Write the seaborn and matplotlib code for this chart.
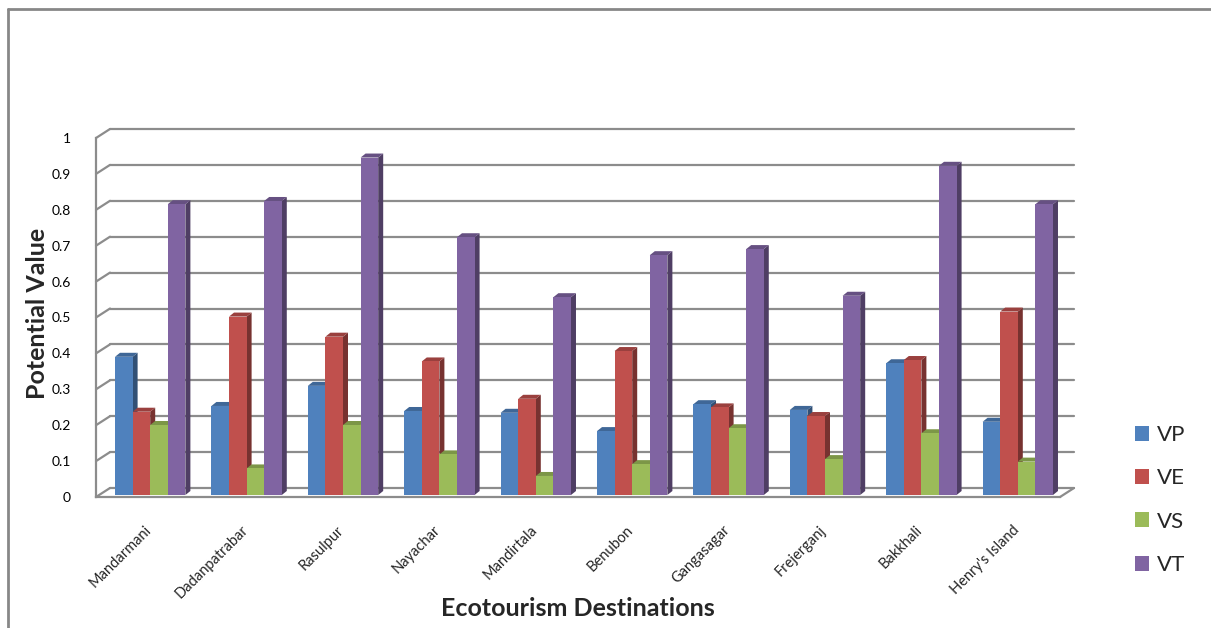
import numpy as np
import pandas as pd
import seaborn as sns
import matplotlib.pyplot as plt
from matplotlib.transforms import ScaledTranslation
from matplotlib.patches import Polygon, Patch
from matplotlib.lines import Line2D

# values
destinations = ['Mandarmani', 'Dadanpatrabar', 'Rasulpur', 'Nayachar', 'Mandirtala',
                'Benubon', 'Gangasagar', 'Frejerganj', 'Bakkhali', "Henry's Island"]
series_names = ['VP', 'VE', 'VS', 'VT']
vp = [0.385, 0.248, 0.304, 0.234, 0.229, 0.178, 0.253, 0.237, 0.367, 0.204]
ve = [0.232, 0.497, 0.441, 0.372, 0.268, 0.401, 0.244, 0.220, 0.376, 0.511]
vs = [0.195, 0.074, 0.195, 0.113, 0.053, 0.086, 0.186, 0.100, 0.172, 0.093]
vt = [0.810, 0.819, 0.940, 0.718, 0.551, 0.668, 0.685, 0.555, 0.917, 0.810]
y_ticks = [0, 0.1, 0.2, 0.3, 0.4, 0.5, 0.6, 0.7, 0.8, 0.9, 1]
y_tick_labels = ['0', '0.1', '0.2', '0.3', '0.4', '0.5', '0.6', '0.7', '0.8', '0.9', '1']

colors = ['#4F81BD', '#C0504D', '#9BBB59', '#8064A2']
grid_col = '#8C8C8C'

df = pd.DataFrame({
    'Destination': destinations * 4,
    'Series': sum([[s] * len(destinations) for s in series_names], []),
    'Value': vp + ve + vs + vt,
})

sns.set_style('white')
plt.rcParams['font.family'] = ['Lato', 'DejaVu Sans']

W, H = 1211, 628
fig = plt.figure(figsize=(W / 100, H / 100), dpi=100)
# front plane of the axes in pixel terms: x 96..1060, y(0)=497, y(1)=138
ax = fig.add_axes([96 / W, (H - 497) / H, (1060 - 96) / W, (497 - 138) / H])
ax.set_xlim(-0.5, len(destinations) - 0.5)
ax.set_ylim(0, 1)


def px(dx, dy):
    # shift in pixels (dpi = 100)
    return ScaledTranslation(dx / 100, dy / 100, fig.dpi_scale_trans)


back = ax.transData + px(14, 9)

# back wall gridlines plus the diagonal links to the front axis
for v in y_ticks:
    ax.plot([-0.5, len(destinations) - 0.5], [v, v], color=grid_col, lw=1.6,
            transform=back, zorder=1, clip_on=False)
    p0 = ax.transData.transform((-0.5, v))
    p1 = back.transform((-0.5, v))
    fig.add_artist(Line2D([p0[0] / W, p1[0] / W], [p0[1] / H, p1[1] / H],
                          color=grid_col, lw=1.6))
# right edge of the floor
p0 = ax.transData.transform((len(destinations) - 0.5, 0))
p1 = back.transform((len(destinations) - 0.5, 0))
fig.add_artist(Line2D([p0[0] / W, p1[0] / W], [p0[1] / H, p1[1] / H],
                      color=grid_col, lw=1.6))

# bars
sns.barplot(data=df, x='Destination', y='Value', hue='Series', hue_order=series_names,
            palette=colors, width=0.73, gap=0, saturation=1, legend=False,
            ax=ax, zorder=3)
ax.set_xlim(-0.5, len(destinations) - 0.5)
ax.set_ylim(0, 1)

bar_tr = ax.transData + px(6, 2)
ux = ax.bbox.width / len(destinations)   # pixels per category
uy = ax.bbox.height                      # pixels per 1.0
dx, dy = 5 / ux, 4 / uy                  # bar depth in data units

bars = list(ax.patches)
for i, bar in enumerate(bars):
    c = np.array(plt.matplotlib.colors.to_rgb(colors[i // len(destinations)]))
    bar.set_transform(bar_tr)
    bar.set_edgecolor('none')
    x0, w, h = bar.get_x(), bar.get_width(), bar.get_height()
    side = Polygon([(x0 + w, 0), (x0 + w + dx, dy), (x0 + w + dx, h + dy), (x0 + w, h)],
                   closed=True, facecolor=c * 0.62, edgecolor='none',
                   transform=bar_tr, zorder=2)
    top = Polygon([(x0, h), (x0 + dx, h + dy), (x0 + w + dx, h + dy), (x0 + w, h)],
                  closed=True, facecolor=c * 0.8, edgecolor='none',
                  transform=bar_tr, zorder=2.5)
    ax.add_patch(side)
    ax.add_patch(top)

# axes styling
for s in ['top', 'right']:
    ax.spines[s].set_visible(False)
for s in ['left', 'bottom']:
    ax.spines[s].set_color(grid_col)
    ax.spines[s].set_linewidth(1.6)
    ax.spines[s].set_zorder(4)

ax.set_yticks(y_ticks, labels=y_tick_labels)
ax.tick_params(axis='y', length=4, width=1.6, color=grid_col, pad=14,
               labelsize=10, labelcolor='black')
ax.set_xticks(np.arange(-0.5, len(destinations), 1), labels=[''] * (len(destinations) + 1))
ax.tick_params(axis='x', which='major', length=4, width=1.6, color=grid_col)

# rotated category names below the floor
lbl_tr = ax.transData + px(5, -31)
for i, name in enumerate(destinations):
    ax.text(i, 0, name, transform=lbl_tr, rotation=45, ha='right', va='center',
            rotation_mode='anchor', fontsize=10.5, clip_on=False)

ax.set_xlabel('')
ax.set_ylabel('')
fig.text(38 / W, 1 - 313 / H, 'Potential Value', rotation=90, ha='center', va='center',
         fontsize=18, fontweight='bold')
fig.text(578 / W, 1 - 609 / H, 'Ecotourism Destinations', ha='center', va='center',
         fontsize=18, fontweight='bold')

# legend on the right
handles = [Patch(facecolor=c, edgecolor='none') for c in colors]
fig.legend(handles, series_names, loc='center left', bbox_to_anchor=(1115 / W, 1 - 500 / H),
           frameon=False, fontsize=16, handlelength=0.65, handleheight=0.65,
           handletextpad=0.35, labelspacing=1.05)

# outer chart frame (left and top edges visible)
fig.add_artist(Line2D([8 / W, 8 / W], [0, 1 - 9 / H], color='#878787', lw=2))
fig.add_artist(Line2D([8 / W, 1], [1 - 9 / H, 1 - 9 / H], color='#878787', lw=2))

fig.savefig('out.png', dpi=100)
